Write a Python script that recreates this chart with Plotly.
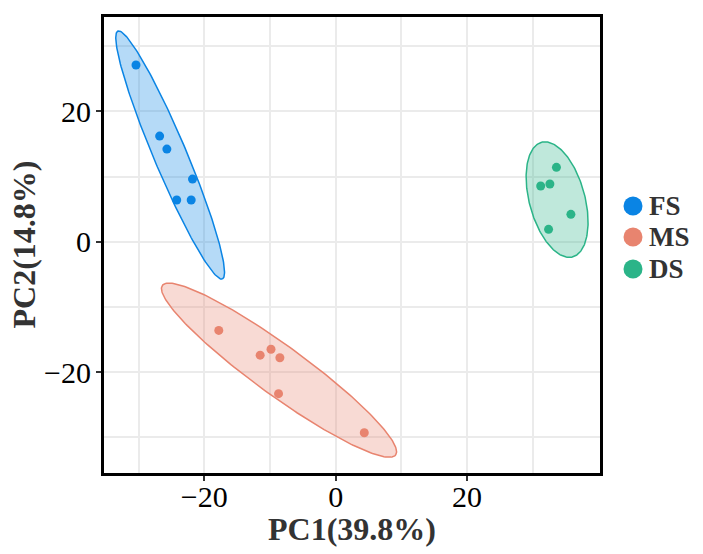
import numpy as np
import plotly.graph_objects as go

# ---- data ----
groups = ["FS", "MS", "DS"]
colors = ["#0A84E4", "#E8846F", "#2BB488"]
fills = ["rgba(10,132,228,0.30)", "rgba(232,132,111,0.30)", "rgba(43,180,136,0.30)"]

fs_x = [-30.4, -26.8, -25.7, -21.8, -24.2, -22.0]
fs_y = [27.1, 16.2, 14.2, 9.6, 6.4, 6.4]
ms_x = [-17.8, -11.5, -9.85, -8.5, -8.7, 4.35]
ms_y = [-13.6, -17.4, -16.5, -17.8, -23.3, -29.3]
ds_x = [33.6, 31.2, 32.6, 35.8, 32.4]
ds_y = [11.4, 8.55, 8.85, 4.2, 1.9]

# confidence ellipses (center, semi-axes, rotation in degrees)
ell_cx = [-25.2, -8.63, 33.7]
ell_cy = [13.3, -19.7, 6.46]
ell_a = [20.6, 22.0, 9.1]
ell_b = [2.5, 3.8, 4.23]
ell_angle = [-67.3, -36.2, 105.0]

x_ticks = [-20, 0, 20]
y_ticks = [-20, 0, 20]
minor_ticks = [-30, -10, 10, 30]
x_title = "PC1(39.8%)"
y_title = "PC2(14.8%)"

xs = [fs_x, ms_x, ds_x]
ys = [fs_y, ms_y, ds_y]

SERIF = "Liberation Serif, Times New Roman, serif"

fig = go.Figure()
t = np.linspace(0, 2 * np.pi, 240)
for i, g in enumerate(groups):
    th = np.deg2rad(ell_angle[i])
    ex = ell_cx[i] + ell_a[i] * np.cos(t) * np.cos(th) - ell_b[i] * np.sin(t) * np.sin(th)
    ey = ell_cy[i] + ell_a[i] * np.cos(t) * np.sin(th) + ell_b[i] * np.sin(t) * np.cos(th)
    fig.add_trace(go.Scatter(x=ex, y=ey, mode="lines", fill="toself",
                             fillcolor=fills[i], line=dict(color=colors[i], width=1.5),
                             showlegend=False, hoverinfo="skip"))
for i, g in enumerate(groups):
    fig.add_trace(go.Scatter(x=xs[i], y=ys[i], mode="markers", name=g,
                             marker=dict(color=colors[i], size=9),
                             showlegend=False))

plot_top, plot_bottom, plot_left, plot_right = 17, 473, 104, 600
pw = plot_right - plot_left
ph = plot_bottom - plot_top

# manual legend (large keys)
leg_y_px = [206, 237, 269]
for i, g in enumerate(groups):
    cxp = (633 - plot_left) / pw
    cyp = (plot_bottom - leg_y_px[i]) / ph
    rx = 9.5 / pw
    ry = 9.5 / ph
    fig.add_shape(type="circle", xref="paper", yref="paper",
                  x0=cxp - rx, x1=cxp + rx, y0=cyp - ry, y1=cyp + ry,
                  fillcolor=colors[i], line=dict(width=0))
    fig.add_annotation(xref="paper", yref="paper", x=(647 - plot_left) / pw, y=cyp,
                       xanchor="left", yanchor="middle", showarrow=False,
                       text="<b>%s</b>" % g,
                       font=dict(family=SERIF, size=27, color="#333333"))

# axis titles
fig.add_annotation(xref="paper", yref="paper", x=0.5, y=(plot_bottom - 529) / ph,
                   xanchor="center", yanchor="middle", showarrow=False,
                   text="<b>%s</b>" % x_title,
                   font=dict(family=SERIF, size=32, color="#333333"))
fig.add_annotation(xref="paper", yref="paper", x=(23.5 - plot_left) / pw,
                   y=(plot_bottom - 245) / ph, textangle=-90,
                   xanchor="center", yanchor="middle", showarrow=False,
                   text="<b>%s</b>" % y_title,
                   font=dict(family=SERIF, size=32, color="#333333"))

axis_common = dict(
    showline=True, linecolor="black", linewidth=3, mirror=True,
    ticks="outside", ticklen=5, tickwidth=1.5, tickcolor="#333333",
    showgrid=True, gridcolor="#EBEBEB", gridwidth=2, zeroline=False,
    tickfont=dict(family=SERIF, size=30, color="black"),
    minor=dict(tickvals=minor_ticks, showgrid=True, gridcolor="#EBEBEB", gridwidth=1.5, ticks=""),
)
fig.update_xaxes(range=[-35.27, 40.23], tickvals=x_ticks, ticklabelstandoff=-10, **axis_common)
fig.update_yaxes(range=[-35.47, 34.46], tickvals=y_ticks, ticklabelstandoff=-1, **axis_common)

fig.update_layout(
    width=703, height=554,
    margin=dict(l=104, r=103, t=17, b=81),
    plot_bgcolor="white", paper_bgcolor="white",
    showlegend=False,
)
fig.write_html("out.html")
